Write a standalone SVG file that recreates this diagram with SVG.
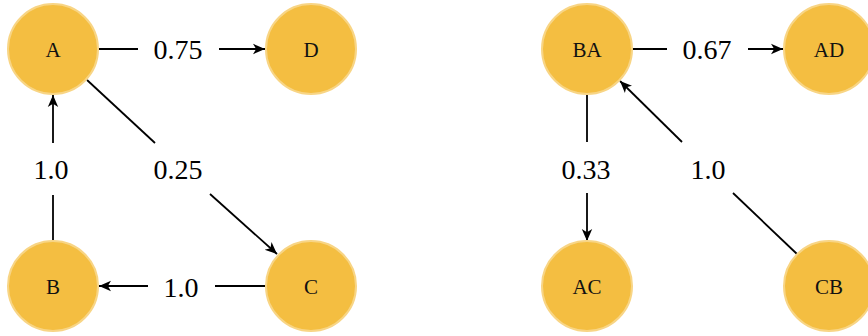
<svg xmlns="http://www.w3.org/2000/svg" width="868" height="336" viewBox="0 0 868 336">
  <style>
    .node circle { fill: #F4BE41; stroke: #F8D585; stroke-width: 2; }
    .node text { font-family: "Liberation Serif", "Times New Roman", serif; font-size: 21px; fill: #111; text-anchor: middle; }
    .edge line { stroke: #000; stroke-width: 1.8; fill: none; }
    .edge line.head { marker-end: url(#arrow); }
    .edge text { font-family: "Liberation Serif", "Times New Roman", serif; font-size: 28px; fill: #000; text-anchor: middle; }
  </style>
  <defs>
    <marker id="arrow" markerUnits="userSpaceOnUse" viewBox="0 0 12 12" refX="12" refY="6" markerWidth="12" markerHeight="12" orient="auto">
      <path d="M0,0.8 L12,6 L0,11.2 L3.2,6 Z" fill="#000"/>
    </marker>
  </defs>
  <rect width="868" height="336" fill="#fff"/>

  <!-- connectors -->
  <g id="edges">
    <g class="edge" id="edge-A-D">
      <line x1="99" y1="49" x2="138" y2="49"/>
      <line class="head" x1="219" y1="49" x2="265" y2="49"/>
      <text x="178" y="59">0.75</text>
    </g>
    <g class="edge" id="edge-B-A">
      <line x1="53" y1="241" x2="53" y2="195"/>
      <line class="head" x1="53" y1="143" x2="53" y2="95"/>
      <text x="51" y="179">1.0</text>
    </g>
    <g class="edge" id="edge-A-C">
      <line x1="87" y1="80" x2="155" y2="143"/>
      <line class="head" x1="210" y1="194" x2="277" y2="254"/>
      <text x="178" y="179">0.25</text>
    </g>
    <g class="edge" id="edge-C-B">
      <line x1="265" y1="286" x2="215" y2="286"/>
      <line class="head" x1="148" y1="286" x2="99" y2="286"/>
      <text x="181" y="297">1.0</text>
    </g>
    <g class="edge" id="edge-BA-AD">
      <line x1="632" y1="49" x2="667" y2="49"/>
      <line class="head" x1="748" y1="49" x2="783" y2="49"/>
      <text x="707" y="59">0.67</text>
    </g>
    <g class="edge" id="edge-BA-AC">
      <line x1="587" y1="95" x2="587" y2="142"/>
      <line class="head" x1="587" y1="193" x2="587" y2="241"/>
      <text x="586" y="179">0.33</text>
    </g>
    <g class="edge" id="edge-CB-BA">
      <line x1="797" y1="254" x2="733" y2="193"/>
      <line class="head" x1="682" y1="142" x2="620" y2="81"/>
      <text x="708" y="179">1.0</text>
    </g>
  </g>

  <!-- nodes -->
  <g class="node" id="node-A"><circle cx="53" cy="49" r="45"/><text x="53" y="56.5">A</text></g>
  <g class="node" id="node-D"><circle cx="311" cy="49" r="45"/><text x="311" y="56.5">D</text></g>
  <g class="node" id="node-B"><circle cx="53" cy="286" r="45"/><text x="53" y="293.5">B</text></g>
  <g class="node" id="node-C"><circle cx="311" cy="286" r="45"/><text x="311" y="293.5">C</text></g>
  <g class="node" id="node-BA"><circle cx="587" cy="49" r="45"/><text x="587" y="56.5">BA</text></g>
  <g class="node" id="node-AD"><circle cx="829" cy="49" r="45"/><text x="829" y="56.5">AD</text></g>
  <g class="node" id="node-AC"><circle cx="587" cy="286" r="45"/><text x="587" y="293.5">AC</text></g>
  <g class="node" id="node-CB"><circle cx="829" cy="286" r="45"/><text x="829" y="293.5">CB</text></g>
</svg>
